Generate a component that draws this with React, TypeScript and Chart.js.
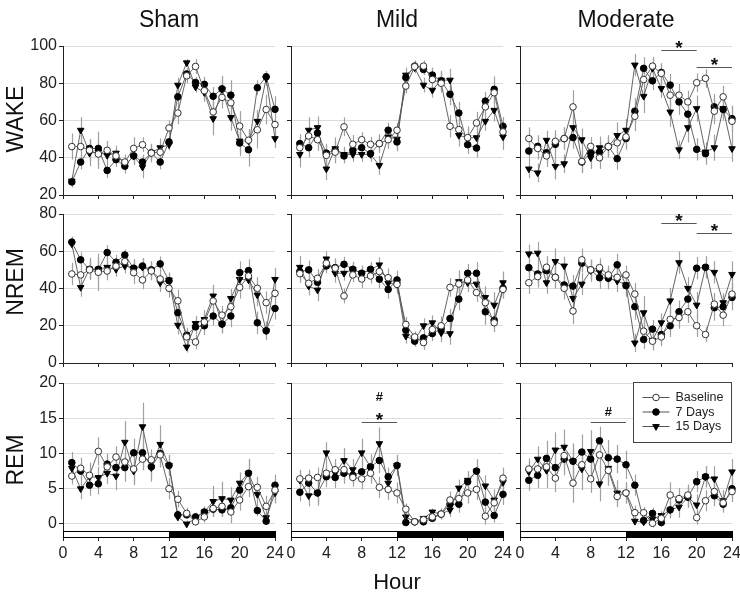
import React, { useEffect, useRef } from "react";
import { Chart, registerables } from "chart.js";
Chart.register(...registerables);

// ---------------- data ----------------
const hours = [1, 2, 3, 4, 5, 6, 7, 8, 9, 10, 11, 12, 13, 14, 15, 16, 17, 18, 19, 20, 21, 22, 23, 24];
const xTickValues = [0, 4, 8, 12, 16, 20, 24];
const columnTitles = ["Sham", "Mild", "Moderate"];
const rowTitles = ["WAKE", "NREM", "REM"];
const seriesNames = ["Baseline", "7 Days", "15 Days"];
const wakeTicks = [20, 40, 60, 80, 100];
const nremTicks = [0, 20, 40, 60, 80];
const remTicks = [0, 5, 10, 15, 20];
const lightDarkBar = [
  { from: 0, to: 12, dark: false },
  { from: 12, to: 24, dark: true },
];

// WAKE
const shamWakeBase = [46, 46, 44, 42, 44, 41, 37.7, 45, 47, 42.5, 43, 56, 64, 84, 89, 76, 64.6, 72.4, 69.5, 57, 49.4, 55, 65.9, 57.8];
const shamWake7 = [27, 37.7, 45, 45, 33.2, 39, 35.5, 41, 37.7, 42.7, 37.7, 48.5, 72.7, 85, 80.4, 79.4, 73, 77, 73.6, 47.9, 44.3, 77.6, 83.5, 66];
const shamWake15 = [27.5, 54.8, 42.5, 43, 41.3, 42.5, 36, 40.8, 35, 42.7, 45.4, 47, 79, 91, 78, 75, 61, 76.7, 61.6, 49, 49, 59.6, 82.6, 50.3];
const mildWakeBase = [45.4, 51.7, 49.7, 41.3, 43, 56.6, 47.2, 49.7, 47.2, 47.6, 49.7, 54.8, 78.5, 88.9, 89.2, 82, 80, 56.9, 55.1, 50.8, 58.7, 67.3, 74.9, 53.9];
const mildWake7 = [47.6, 45.4, 53.3, 42.5, 44, 41, 44, 45.4, 42.2, 47.6, 54.8, 48.5, 83.1, 89.2, 87.4, 84.4, 81.3, 74.1, 64, 47, 45.2, 70.4, 76.7, 56.9];
const mildWake15 = [41.8, 54.8, 56.2, 34, 44.9, 41.8, 41.8, 41.8, 41.8, 35.9, 51.2, 50, 84.4, 88.3, 79, 76.3, 81.7, 81.7, 52, 50.8, 50.8, 59.6, 65.5, 51.2];
const modWakeBase = [50.3, 45, 41, 48.8, 50.3, 67.3, 38, 46.1, 40, 46, 48, 51.2, 62.3, 82, 89.2, 85.3, 73.6, 73.6, 70, 80.3, 82.6, 65, 72.7, 59.6];
const modWake7 = [43.6, 46.1, 42.7, 47.2, 50.3, 50.8, 37.7, 42.7, 43, 46.1, 39.5, 50.3, 65, 88, 81.3, 85.8, 79, 70, 63.4, 44.5, 42.2, 67.3, 65.9, 61];
const modWake15 = [34, 31.9, 49.4, 35.4, 36.8, 56.2, 49.7, 40, 45.4, 45.8, 52, 54.8, 89.8, 73, 88, 77.2, 64.6, 44.3, 56.2, 66.4, 43.1, 45.4, 66.4, 44.9];

const shamWakeBaseErr = [7, 6, 6, 8, 5, 4, 4, 6, 4, 5, 5, 4, 6, 4, 4, 6, 8, 6, 7, 8, 6, 10, 8, 7];
const shamWake7Err = [3, 4, 5, 9, 4, 4, 4, 5, 4, 4, 4, 3, 4, 3, 3, 4, 5, 7, 8, 7, 9, 4, 3, 7];
const shamWake15Err = [3, 7, 7, 5, 5, 4, 4, 4, 6, 4, 5, 3, 4, 2, 3, 4, 9, 6, 7, 6, 5, 6, 4, 5];
const mildWakeBaseErr = [5, 5, 6, 5, 6, 5, 5, 4, 4, 4, 5, 4, 4, 3, 3, 4, 5, 6, 6, 5, 6, 5, 6, 5];
const mildWake7Err = [5, 5, 5, 5, 5, 4, 4, 4, 4, 5, 4, 5, 3, 3, 3, 4, 5, 6, 6, 5, 5, 5, 7, 5];
const mildWake15Err = [7, 7, 6, 6, 6, 4, 4, 4, 4, 5, 5, 6, 4, 3, 4, 4, 5, 6, 6, 6, 8, 5, 6, 7];
const modWakeBaseErr = [6, 6, 6, 6, 6, 9, 6, 5, 6, 5, 6, 6, 8, 8, 5, 5, 6, 6, 6, 5, 5, 7, 6, 8];
const modWake7Err = [5, 6, 6, 6, 6, 6, 6, 5, 6, 6, 6, 6, 7, 6, 5, 5, 6, 7, 8, 6, 6, 7, 6, 7];
const modWake15Err = [5, 5, 5, 7, 5, 6, 6, 6, 6, 5, 7, 6, 6, 9, 5, 5, 8, 5, 8, 7, 5, 7, 5, 7];

// NREM
const shamNremBase = [47.8, 47.3, 50, 48.7, 49.4, 52, 54.5, 48.5, 44.6, 49.4, 45.1, 40.1, 33.4, 14, 11.3, 22, 33.3, 25.7, 30.2, 40.6, 46.7, 40.1, 32.4, 37.4];
const shamNrem7 = [64.9, 55.4, 50.3, 50.3, 59.3, 54.1, 58, 50.9, 52.1, 50, 53.2, 44.2, 27, 14.9, 19.4, 20, 25.2, 20.9, 25.2, 48.5, 49.6, 21.6, 17.3, 29.3];
const shamNrem15 = [64, 40.6, 50.5, 50.3, 51.4, 50.3, 52.1, 50.9, 51.4, 49.6, 43.1, 44.6, 20.3, 8.6, 21.2, 23.4, 36, 20.9, 34.7, 44.9, 44.6, 36.5, 17.3, 44.9];
const mildNremBase = [48, 42.8, 45.5, 53.6, 50.9, 36, 47.3, 45.1, 46.7, 49.1, 45.8, 42.2, 20.7, 14, 11, 18, 20, 40.6, 42.4, 44.6, 37.8, 32.4, 21.6, 39.5];
const mildNrem7 = [49.1, 50, 43.3, 52.1, 51.2, 53, 50.3, 48.2, 50.3, 45, 39.5, 44.6, 17.6, 11.7, 13.5, 15.8, 18.5, 23.9, 34.3, 48.2, 48.2, 27.5, 23, 40.1];
const mildNrem15 = [51.4, 41.3, 39.2, 55.9, 48.2, 48.2, 50.3, 48.2, 50, 52.7, 42.8, 42.2, 14.4, 12.2, 20, 21.6, 16.2, 15.8, 43.7, 43.1, 42.4, 35.2, 31.1, 43.1];
const modNremBase = [43.1, 46.4, 51.4, 46, 40.1, 27.9, 55.4, 50, 51.2, 47.3, 46, 47.3, 37, 17.1, 11.7, 14, 23.4, 24.4, 27.5, 20, 15.3, 31.6, 25.7, 37];
const modNrem7 = [51.2, 47.8, 49.6, 46, 41.9, 41.3, 53.6, 50, 45.8, 45.5, 52.7, 41.5, 30.2, 12.6, 18.2, 15.3, 20, 27.5, 34.3, 50.9, 51.4, 29.7, 30.2, 35.2];
const modNrem15 = [58.6, 59, 43.1, 54.5, 52.1, 34.7, 42.4, 49.6, 49.1, 45.5, 44, 42, 10.8, 27, 12.2, 21.6, 33.4, 53.9, 40.1, 31.1, 51.4, 48.7, 32.4, 47.6];

const shamNremBaseErr = [6, 5, 5, 10, 5, 5, 4, 6, 5, 5, 5, 5, 6, 5, 4, 5, 6, 5, 6, 6, 5, 6, 6, 6];
const shamNrem7Err = [3, 4, 5, 5, 4, 4, 3, 5, 4, 4, 4, 4, 5, 3, 4, 5, 5, 5, 6, 6, 6, 6, 3, 6];
const shamNrem15Err = [3, 5, 6, 6, 5, 4, 4, 4, 5, 5, 5, 4, 5, 3, 4, 5, 6, 5, 5, 4, 5, 6, 5, 6];
const mildNremBaseErr = [5, 5, 5, 4, 5, 4, 4, 5, 4, 4, 5, 4, 4, 3, 4, 4, 5, 5, 5, 4, 5, 5, 5, 5];
const mildNrem7Err = [4, 5, 6, 4, 5, 4, 4, 4, 4, 5, 5, 5, 4, 3, 3, 4, 4, 5, 6, 5, 6, 7, 5, 5];
const mildNrem15Err = [6, 5, 6, 4, 5, 4, 4, 4, 4, 4, 5, 5, 4, 3, 4, 4, 5, 6, 6, 5, 5, 6, 7, 6];
const modNremBaseErr = [6, 6, 6, 6, 6, 7, 6, 5, 5, 5, 5, 5, 6, 6, 5, 5, 6, 6, 6, 6, 4, 6, 6, 6];
const modNrem7Err = [5, 6, 6, 6, 6, 6, 5, 5, 6, 6, 6, 6, 7, 5, 5, 5, 6, 6, 7, 6, 6, 7, 6, 7];
const modNrem15Err = [5, 6, 6, 7, 5, 6, 6, 6, 6, 5, 6, 6, 5, 9, 5, 5, 7, 6, 6, 7, 5, 6, 5, 7];

// REM
const shamRemBase = [6.8, 7.9, 6.9, 10.3, 8.1, 9.5, 8.8, 7.8, 9.2, 9.1, 9.8, 5.0, 3.5, 1.5, 0.3, 1.0, 2.2, 2.5, 1.7, 3.4, 5.3, 5.2, 2.5, 4.8];
const shamRem7 = [8.7, 7.5, 5.5, 5.7, 8.5, 8.0, 8.0, 10.1, 10.1, 8.1, 10, 8.3, 1.3, 1.3, 1.0, 1.7, 2.1, 2.0, 2.3, 4.8, 7.2, 1.9, 0.4, 5.5];
const shamRem15 = [7.9, 5.0, 6.7, 6.6, 7.2, 6.8, 11.6, 7.5, 13.8, 8.0, 11.3, 8.3, 1.0, 0, 0.8, 1.7, 3.2, 3.6, 3.4, 5.8, 7.2, 4.2, 0.9, 4.4];
const mildRemBase = [6.4, 6.5, 6.6, 7.2, 7.7, 7.7, 6.6, 6.4, 7.2, 5.2, 4.9, 4.4, 2.1, 0.3, 0.6, 1.0, 1.4, 3.4, 3.6, 4.4, 4.9, 1.1, 3.0, 6.5];
const mildRem7 = [4.5, 5.8, 4.4, 6.7, 6.6, 7.2, 6.9, 7.4, 8.1, 9.0, 6.7, 8.3, 0.2, 0.3, 0.3, 0.8, 1.4, 2.8, 2.8, 6.0, 7.5, 3.1, 1.2, 4.2];
const mildRem15 = [6.2, 4.0, 4.4, 10.1, 7.2, 9.0, 7.7, 10.1, 8.1, 11.4, 5.8, 8.3, 1.0, 0.3, 0.8, 1.7, 1.4, 2.0, 5.1, 6.2, 7.5, 5.4, 3.4, 5.9];
const modRemBase = [7.8, 7.8, 8.1, 6.5, 9.7, 5.8, 8.4, 6.4, 9.8, 7.6, 3.9, 4.4, 1.6, 1.6, 0.1, 0.8, 4.1, 3.6, 4.1, 0.9, 3.3, 4.6, 3.0, 4.6];
const modRem7 = [6.2, 6.9, 9.3, 8.0, 9.2, 8.9, 10.2, 9.2, 11.8, 9.4, 9.2, 8.4, 5.5, 0.5, 1.5, 0.2, 2.0, 3.4, 3.8, 6.0, 6.7, 4.0, 2.8, 5.0];
const modRem15 = [7.4, 9.2, 7.6, 10.5, 10.9, 8.9, 7.8, 10.3, 5.7, 7.9, 4.4, 4.4, 0.4, 0.3, 0.7, 1.2, 2.0, 2.4, 3.8, 2.7, 6.7, 6.4, 3.3, 7.4];

const shamRemBaseErr = [1.2, 1.5, 1.5, 2, 1.5, 1.5, 1.5, 2, 1.5, 1.5, 1.5, 1.5, 1.2, 0.8, 0.5, 0.8, 1.2, 1.5, 1.6, 1.5, 1.5, 1.5, 1.5, 1.6];
const shamRem7Err = [1.5, 1.2, 1.5, 1.5, 1.5, 1.5, 2, 2, 2.5, 1.5, 2, 1.5, 0.6, 0.6, 0.6, 0.7, 1, 1, 1, 1.5, 2, 0.8, 0.5, 1.5];
const shamRem15Err = [1, 1.5, 2, 1.5, 1.5, 2, 3, 2, 3.4, 2, 2.7, 1.5, 0.6, 0.5, 0.5, 0.8, 2.2, 2.4, 1.8, 1.5, 2, 1.5, 1, 1.5];
const mildRemBaseErr = [1.2, 1.2, 1.4, 1.5, 1.5, 1.5, 1.3, 1.5, 1.5, 1.5, 1.5, 1.5, 0.8, 0.4, 0.5, 0.6, 0.8, 1.2, 1.4, 1.5, 1.5, 1.2, 1.3, 1.5];
const mildRem7Err = [1.3, 1.5, 1.5, 1.5, 1.5, 1.5, 1.2, 1.8, 1.5, 1.8, 1.3, 1.5, 0.3, 0.3, 0.3, 0.5, 0.6, 1, 1.2, 1.5, 1.7, 1.3, 1, 1.5];
const mildRem15Err = [1.5, 1.5, 1.8, 1.5, 1.5, 1.8, 1.5, 2, 1.8, 2.3, 1.5, 1.5, 0.5, 0.3, 0.4, 0.5, 0.6, 1, 1.2, 1.2, 1.5, 1.5, 1.5, 1.5];
const modRemBaseErr = [1.5, 1.5, 1.8, 2, 1.8, 2.8, 2, 2, 2, 2, 1.5, 1.5, 1, 0.8, 0.6, 0.8, 1.8, 1.5, 1.5, 1, 1.5, 1.5, 1.2, 1.5];
const modRem7Err = [1.5, 1.8, 2.5, 2.5, 2.3, 2.5, 2.5, 2.5, 2, 2.5, 2, 2, 1.5, 0.6, 0.8, 0.6, 1, 1.5, 1.5, 1.5, 1.5, 1.5, 1.2, 1.5];
const modRem15Err = [1.5, 1.8, 2.5, 2.5, 2.5, 2.5, 3, 3, 2.5, 2.5, 1.8, 1.5, 0.6, 0.5, 0.5, 0.6, 1.2, 1.5, 1.5, 1.5, 1.5, 1.8, 1.5, 1.8];

// significance marks
const modWakeSig = [
  { from: 16, to: 20, level: 97.8, marks: ["*"] },
  { from: 20, to: 24, level: 88.9, marks: ["*"] },
];
const modNremSig = [
  { from: 16, to: 20, level: 75, marks: ["*"] },
  { from: 20, to: 24, level: 69.6, marks: ["*"] },
];
const mildRemSig = [{ from: 8, to: 12, level: 14.4, marks: ["*", "#"] }];
const modRemSig = [{ from: 8, to: 12, level: 14.4, marks: ["#"] }];

// ---------------- layout ----------------
const colLeft = [63, 291, 520];
const plotWidth = 212;
const rowTop = [46, 214, 383];
const rowBottom = [195, 363, 537];
const rowRange = [
  [20, 100],
  [0, 80],
  [-1.85, 20],
];
const rowTicks = [wakeTicks, nremTicks, remTicks];
const PAD_L = 55;
const PAD_T = 28;
const PAD_R = 15;
const FONT = '"Liberation Sans", Arial, Helvetica, sans-serif';

type Sig = { from: number; to: number; level: number; marks: string[] };
type PanelDef = {
  row: number;
  col: number;
  series: number[][];
  errors: number[][];
  sig: Sig[];
  legend?: boolean;
};

const panels: PanelDef[] = [
  { row: 0, col: 0, series: [shamWakeBase, shamWake7, shamWake15], errors: [shamWakeBaseErr, shamWake7Err, shamWake15Err], sig: [] },
  { row: 0, col: 1, series: [mildWakeBase, mildWake7, mildWake15], errors: [mildWakeBaseErr, mildWake7Err, mildWake15Err], sig: [] },
  { row: 0, col: 2, series: [modWakeBase, modWake7, modWake15], errors: [modWakeBaseErr, modWake7Err, modWake15Err], sig: modWakeSig },
  { row: 1, col: 0, series: [shamNremBase, shamNrem7, shamNrem15], errors: [shamNremBaseErr, shamNrem7Err, shamNrem15Err], sig: [] },
  { row: 1, col: 1, series: [mildNremBase, mildNrem7, mildNrem15], errors: [mildNremBaseErr, mildNrem7Err, mildNrem15Err], sig: [] },
  { row: 1, col: 2, series: [modNremBase, modNrem7, modNrem15], errors: [modNremBaseErr, modNrem7Err, modNrem15Err], sig: modNremSig },
  { row: 2, col: 0, series: [shamRemBase, shamRem7, shamRem15], errors: [shamRemBaseErr, shamRem7Err, shamRem15Err], sig: [] },
  { row: 2, col: 1, series: [mildRemBase, mildRem7, mildRem15], errors: [mildRemBaseErr, mildRem7Err, mildRem15Err], sig: mildRemSig },
  { row: 2, col: 2, series: [modRemBase, modRem7, modRem15], errors: [modRemBaseErr, modRem7Err, modRem15Err], sig: modRemSig, legend: true },
];

const seriesStyle = [
  { pointStyle: "circle", pointRadius: 3.3, pointBackgroundColor: "#ffffff", pointBorderColor: "#333333", pointBorderWidth: 1, pointRotation: 0 },
  { pointStyle: "circle", pointRadius: 3.3, pointBackgroundColor: "#000000", pointBorderColor: "#000000", pointBorderWidth: 1, pointRotation: 0 },
  { pointStyle: "triangle", pointRadius: 3.8, pointBackgroundColor: "#000000", pointBorderColor: "#000000", pointBorderWidth: 1, pointRotation: 180 },
];

function drawMarker(ctx: CanvasRenderingContext2D, idx: number, x: number, y: number) {
  const st = seriesStyle[idx];
  ctx.save();
  ctx.fillStyle = st.pointBackgroundColor;
  ctx.strokeStyle = st.pointBorderColor;
  ctx.lineWidth = 1;
  ctx.beginPath();
  if (st.pointStyle === "circle") {
    ctx.arc(x, y, st.pointRadius, 0, Math.PI * 2);
  } else {
    const r = st.pointRadius;
    ctx.moveTo(x - r * 0.87, y - r * 0.5);
    ctx.lineTo(x + r * 0.87, y - r * 0.5);
    ctx.lineTo(x, y + r);
    ctx.closePath();
  }
  ctx.fill();
  ctx.stroke();
  ctx.restore();
}

function Panel({ p }: { p: PanelDef }) {
  const ref = useRef<HTMLCanvasElement>(null);
  const isBottom = p.row === 2;
  const xAxisH = isBottom ? 32 : 12;
  const plotH = rowBottom[p.row] - rowTop[p.row];
  const cw = PAD_L + plotWidth + PAD_R;
  const chh = PAD_T + plotH + xAxisH;
  const left = colLeft[p.col] - PAD_L;
  const top = rowTop[p.row] - PAD_T;

  useEffect(() => {
    const canvas = ref.current;
    if (!canvas) return;
    const ticks = rowTicks[p.row];
    const [ymin, ymax] = rowRange[p.row];

    const datasets = p.series.map((vals, si) => ({
      label: seriesNames[si],
      data: hours.map((h, i) => ({ x: h, y: vals[i] })),
      errors: p.errors[si],
      borderColor: "#555555",
      borderWidth: 0.9,
      showLine: true,
      fill: false,
      tension: 0,
      clip: false as any,
      ...seriesStyle[si],
    }));

    const errorBars = {
      id: "errorBars",
      beforeDatasetsDraw(chart: any) {
        const { ctx, scales } = chart;
        const xs = scales.x;
        const ys = scales.y;
        ctx.save();
        ctx.strokeStyle = "#a0a0a0";
        ctx.lineWidth = 1.2;
        chart.data.datasets.forEach((ds: any) => {
          ds.data.forEach((pt: any, i: number) => {
            const e = ds.errors[i];
            const px = Math.round(xs.getPixelForValue(pt.x)) + 0.5;
            ctx.beginPath();
            ctx.moveTo(px, ys.getPixelForValue(pt.y - e));
            ctx.lineTo(px, ys.getPixelForValue(pt.y + e));
            ctx.stroke();
          });
        });
        ctx.restore();
      },
    };

    const dayNight = {
      id: "dayNight",
      afterDraw(chart: any) {
        if (!isBottom) return;
        const { ctx, scales } = chart;
        const xs = scales.x;
        const ys = scales.y;
        ctx.save();
        const yTop = Math.round(ys.getPixelForValue(-0.95)) + 0.5;
        const yBot = Math.round(ys.getPixelForValue(-1.85)) + 0.5;
        lightDarkBar.forEach((seg) => {
          const x0 = Math.round(xs.getPixelForValue(seg.from)) + 0.5;
          const x1 = Math.round(xs.getPixelForValue(seg.to)) + 0.5;
          ctx.fillStyle = seg.dark ? "#000000" : "#ffffff";
          ctx.fillRect(x0, yTop, x1 - x0, yBot - yTop);
          ctx.strokeStyle = "#000000";
          ctx.lineWidth = 1;
          ctx.strokeRect(x0, yTop, x1 - x0, yBot - yTop);
        });
        ctx.restore();
      },
    };

    const sigMarks = {
      id: "sigMarks",
      afterDraw(chart: any) {
        if (!p.sig.length) return;
        const { ctx, scales } = chart;
        const xs = scales.x;
        const ys = scales.y;
        ctx.save();
        p.sig.forEach((s) => {
          const x0 = xs.getPixelForValue(s.from);
          const x1 = xs.getPixelForValue(s.to);
          const yy = Math.round(ys.getPixelForValue(s.level)) + 0.5;
          ctx.strokeStyle = "#555555";
          ctx.lineWidth = 1;
          ctx.beginPath();
          ctx.moveTo(x0, yy);
          ctx.lineTo(x1, yy);
          ctx.stroke();
          ctx.fillStyle = "#111111";
          ctx.textAlign = "center";
          s.marks.forEach((m, k) => {
            const cx = (x0 + x1) / 2;
            if (m === "*") {
              ctx.font = `bold 19px ${FONT}`;
              ctx.textBaseline = "alphabetic";
              ctx.fillText("*", cx, yy - 9 - k * 16 + 12);
            } else {
              ctx.font = `bold 13px ${FONT}`;
              ctx.textBaseline = "middle";
              ctx.fillText("#", cx, yy - 10 - k * 15 + (k > 0 ? 0 : 0));
            }
          });
        });
        ctx.restore();
      },
    };

    const legendBox = {
      id: "legendBox",
      afterDraw(chart: any) {
        if (!p.legend) return;
        const { ctx, chartArea } = chart;
        const right = Math.round(chartArea.right) - 0.5;
        const leftX = right - 98;
        const topY = Math.round(chartArea.top) - 0.5;
        const h = 60;
        ctx.save();
        ctx.fillStyle = "#ffffff";
        ctx.fillRect(leftX, topY, right - leftX, h);
        ctx.strokeStyle = "#444444";
        ctx.lineWidth = 1;
        ctx.strokeRect(leftX, topY, right - leftX, h);
        seriesNames.forEach((name, i) => {
          const yy = topY + 15 + i * 14.5;
          ctx.strokeStyle = "#555555";
          ctx.lineWidth = 1;
          ctx.beginPath();
          ctx.moveTo(leftX + 9, yy);
          ctx.lineTo(leftX + 36, yy);
          ctx.stroke();
          drawMarker(ctx, i, leftX + 22.5, yy);
          ctx.fillStyle = "#222222";
          ctx.font = `12.5px ${FONT}`;
          ctx.textAlign = "left";
          ctx.textBaseline = "middle";
          ctx.fillText(name, leftX + 42, yy + 0.5);
        });
        ctx.restore();
      },
    };

    const chart = new Chart(canvas, {
      type: "line",
      data: { datasets: datasets as any },
      options: {
        responsive: false,
        animation: false,
        devicePixelRatio: 1,
        layout: { padding: { left: 0, top: PAD_T, right: PAD_R, bottom: 0 } },
        plugins: { legend: { display: false }, tooltip: { enabled: false } },
        scales: {
          x: {
            type: "linear",
            min: 0,
            max: 24,
            afterBuildTicks: (s: any) => {
              s.ticks = xTickValues.map((v) => ({ value: v }));
            },
            afterFit: (s: any) => {
              s.height = xAxisH;
            },
            grid: { drawOnChartArea: false, drawTicks: true, tickLength: 4, tickColor: "#222222", lineWidth: 1 },
            border: { display: true, color: "#222222", width: 1 },
            ticks: {
              display: isBottom,
              color: "#222222",
              font: { family: FONT, size: 16 },
              padding: 3,
              maxRotation: 0,
              autoSkip: false,
            },
          },
          y: {
            type: "linear",
            min: ymin,
            max: ymax,
            afterBuildTicks: (s: any) => {
              s.ticks = ticks.map((v) => ({ value: v }));
            },
            afterFit: (s: any) => {
              s.width = PAD_L;
            },
            grid: { color: "#dcdcdc", lineWidth: 1, drawTicks: true, tickLength: 4, tickColor: "#222222" },
            border: { display: true, color: "#222222", width: 1 },
            ticks: {
              display: p.col === 0,
              color: "#222222",
              font: { family: FONT, size: 16 },
              padding: 2,
            },
          },
        },
      } as any,
      plugins: [errorBars, dayNight, sigMarks, legendBox],
    });
    return () => chart.destroy();
  }, []);

  return (
    <canvas
      ref={ref}
      width={cw}
      height={chh}
      style={{ position: "absolute", left, top, width: cw, height: chh }}
    />
  );
}

const colCenters = [169, 397, 626];
const rowLabelCenters = [119, 282, 460];

export default function App() {
  return (
    <div
      style={{
        position: "absolute",
        left: 0,
        top: 0,
        width: 740,
        height: 598,
        overflow: "hidden",
        background: "#ffffff",
        fontFamily: FONT,
        color: "#111111",
      }}
    >
      {panels.map((p, i) => (
        <Panel key={i} p={p} />
      ))}
      {columnTitles.map((t, i) => (
        <div
          key={t}
          style={{
            position: "absolute",
            left: colCenters[i],
            top: 19,
            transform: "translate(-50%, -50%)",
            fontSize: 23,
            lineHeight: 1,
            whiteSpace: "nowrap",
          }}
        >
          {t}
        </div>
      ))}
      {rowTitles.map((t, i) => (
        <div
          key={t}
          style={{
            position: "absolute",
            left: 15,
            top: rowLabelCenters[i],
            transform: "translate(-50%, -50%) rotate(-90deg)",
            fontSize: 23,
            lineHeight: 1,
            whiteSpace: "nowrap",
          }}
        >
          {t}
        </div>
      ))}
      <div
        style={{
          position: "absolute",
          left: 397,
          top: 582,
          transform: "translate(-50%, -50%)",
          fontSize: 22,
          lineHeight: 1,
          whiteSpace: "nowrap",
        }}
      >
        Hour
      </div>
    </div>
  );
}
